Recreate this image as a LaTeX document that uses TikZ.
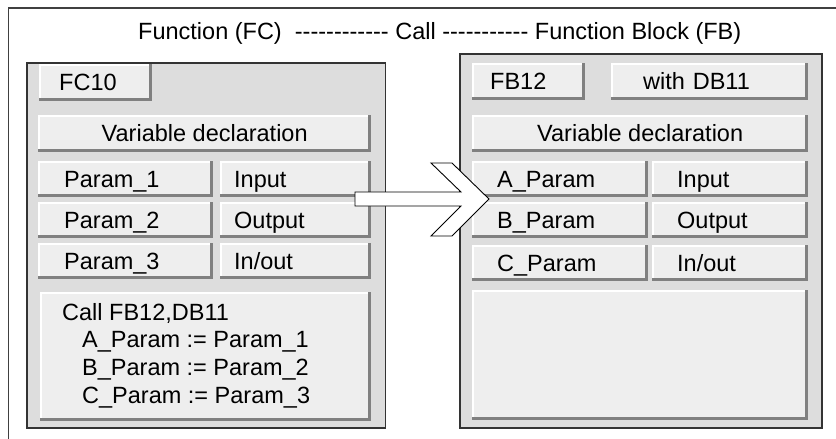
\documentclass[tikz,border=0pt]{standalone}
\usepackage{fontspec}
\setmainfont{Liberation Sans}[Ligatures=TeXOff]
\usetikzlibrary{positioning}

\definecolor{panelgrey}{HTML}{DDDDDD}
\definecolor{btngrey}{HTML}{EEEEEE}
\definecolor{btnshadow}{HTML}{808080}
\definecolor{framegrey}{HTML}{404040}
\newcommand{\btnfont}{\fontsize{23.5}{27.7}\selectfont}

\tikzset{
  panel/.style={draw=black!80, line width=1.2pt, fill=panelgrey},
  knopf/.style={fill=btngrey, anchor=north west, inner sep=0pt,
    minimum height=36pt, font=\btnfont, text height=17pt, text depth=1pt},
  lefttext/.style 2 args={text width=#1, inner xsep=#2, align=left},
  callarrow/.style={draw=black, fill=white, line width=0.9pt, line join=miter}
}

\begin{document}
\begin{tikzpicture}[x=1pt, y=-1pt]
  \useasboundingbox (0,0) rectangle (836,439);
  % outer frame (left and top only)
  \draw[framegrey, line width=1.6pt] (8.5,439) -- (8.5,8) -- (836,8);
  \node[font=\btnfont, anchor=base west, inner sep=0pt] (title) at (138,39)
    {Function (FC)\ \ ------------ Call ----------- Function Block (FB)};

  % panels
  \draw[panel] (27,63) rectangle (385.5,428);   % FC
  \draw[panel] (460,54) rectangle (822,428);    % FB

  % FC side
  \node[knopf, minimum width=113pt, minimum height=37pt, lefttext={73pt}{20pt}] (fc) at (39,64) {FC10};
  \node[knopf, minimum width=333pt, minimum height=37pt] (lvar) at (38,115) {Variable declaration};
  \node[knopf, lefttext={123pt}{26pt}] (p1) at (38,161) {Param\_1};
  \node[knopf, lefttext={123pt}{26pt}] (p2) at (38,202) {Param\_2};
  \node[knopf, lefttext={123pt}{26pt}] (p3) at (38,243) {Param\_3};
  \node[knopf, lefttext={123pt}{14pt}] (in1) at (220,161) {Input};
  \node[knopf, lefttext={123pt}{14pt}] (out1) at (220,202) {Output};
  \node[knopf, lefttext={123pt}{14pt}] (io1) at (220,243) {In/out};
  \node[knopf, minimum width=331pt, minimum height=129pt] (call) at (40,292) {};
  \node[font=\btnfont, align=left, anchor=north west, inner sep=0pt] (calltext) at (62,303)
    {Call FB12,DB11\\
     \hspace*{20pt}A\_Param := Param\_1\\
     \hspace*{20pt}B\_Param := Param\_2\\
     \hspace*{20pt}C\_Param := Param\_3};

  % FB side
  \node[knopf, minimum width=113pt, minimum height=37pt, lefttext={77pt}{18pt}] (fb) at (472,63) {FB12};
  \node[knopf, minimum width=197pt, minimum height=37pt, lefttext={133pt}{32pt}] (db) at (611,63) {with DB11};
  \node[knopf, minimum width=336pt, minimum height=37pt] (rvar) at (472,115) {Variable declaration};
  \node[knopf, lefttext={126pt}{25pt}] (ap) at (472,161) {A\_Param};
  \node[knopf, lefttext={126pt}{25pt}] (bp) at (472,202) {B\_Param};
  \node[knopf, lefttext={126pt}{25pt}] (cp) at (472,245) {C\_Param};
  \node[knopf, lefttext={106pt}{25pt}] (in2) at (652,161) {Input};
  \node[knopf, lefttext={106pt}{25pt}] (out2) at (652,202) {Output};
  \node[knopf, lefttext={106pt}{25pt}] (io2) at (652,245) {In/out};
  \node[knopf, minimum width=336pt, minimum height=130pt] (body) at (472,290) {};

  % bevels
  \foreach \b in {fc,lvar,p1,p2,p3,in1,out1,io1,call,fb,db,rvar,ap,bp,cp,in2,out2,io2,body} {
    \draw[white, line width=1.5pt] ([xshift=0.75pt]\b.south west) -- ([shift={(0.75pt,-0.75pt)}]\b.north west) -- ([yshift=-0.75pt]\b.north east);
    \draw[btnshadow, line width=3pt] ([xshift=-1.5pt]\b.north east) -- ([shift={(-1.5pt,1.5pt)}]\b.south east) -- ([yshift=1.5pt]\b.south west);
  }

  % call arrow
  \coordinate (callfrom) at (355,199);
  \coordinate (callto) at (489,199);
  \draw[callarrow] (callfrom) ++(0,-7) -- ++(106,0) -- ++(-30,-29) -- ++(21,0) -- (callto)
    -- ++(-37,37) -- ++(-21,0) -- ++(30,-30) -- ++(-106,0) -- cycle;
\end{tikzpicture}
\end{document}
